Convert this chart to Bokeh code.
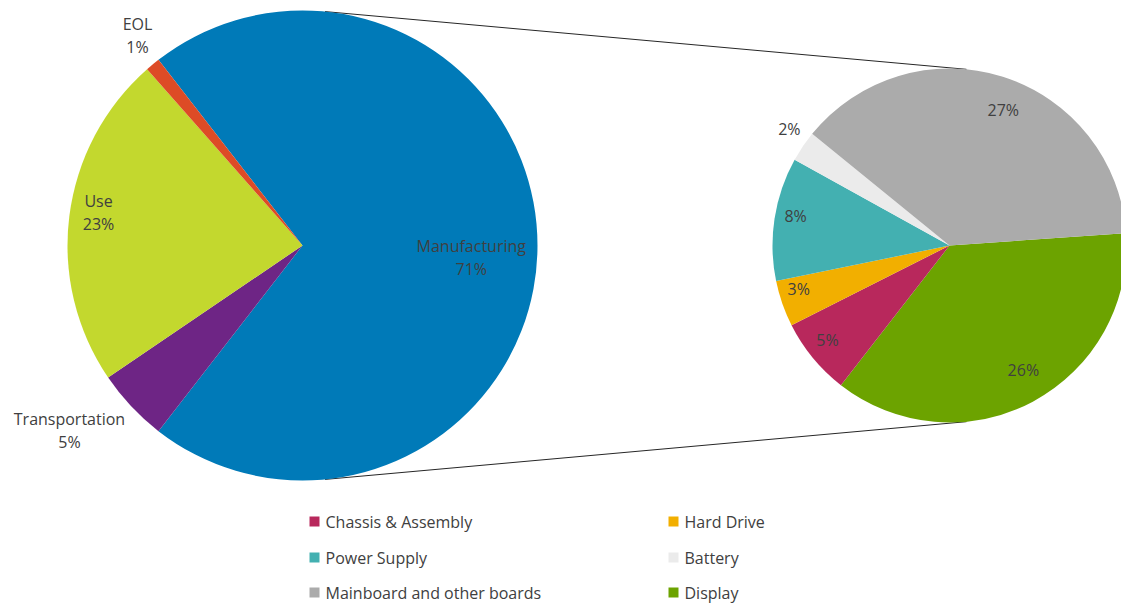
import numpy as np
from bokeh.plotting import figure
from bokeh.models import Range1d, ColumnDataSource
from bokeh.core.properties import value
from bokeh.embed import file_html
from bokeh.resources import INLINE

# ---------------- data ----------------
main_labels = ["Manufacturing", "Transportation", "Use", "EOL"]
main_values = [71, 5, 23, 1]
main_colors = ["#007AB8", "#6E2585", "#C3D82E", "#DD4B26"]

sub_labels = ["Display", "Chassis & Assembly", "Hard Drive", "Power Supply",
              "Battery", "Mainboard and other boards"]
sub_values = [26, 5, 3, 8, 2, 27]
sub_colors = ["#6CA300", "#B8285C", "#F2AF00", "#43B0B1", "#EBEBEB", "#ABABAB"]

legend_order = ["Chassis & Assembly", "Hard Drive", "Power Supply", "Battery",
                "Mainboard and other boards", "Display"]

# ---------------- layout ----------------
W, H = 1121, 604
def Y(py):
    return H - py

L_CX, L_CY, L_R = 302, Y(245), 235
R_CX, R_CY, R_R = 949, Y(245), 177
L_START = 0 + main_values[0] / 100 * 360 / 2   # Manufacturing centered on east
R_START = 4.0

main_label_r = [0.72, 1.267, 0.879, 1.135]
main_label_dang = [-4.0, -4.7, -1.9, -1.4]
sub_label_r = [0.82, 0.873, 0.887, 0.885, 1.119, 0.824]
sub_label_dang = [2.5, -1.6, -3.1, -2.0, -2.0, -4.1]

FONT = "Open Sans"
TXT = "#404040"

p = figure(width=W, height=H, x_range=Range1d(0, W), y_range=Range1d(0, H),
           output_backend="svg", toolbar_location=None, min_border=0,
           x_axis_type=None, y_axis_type=None)
p.grid.visible = False
p.outline_line_color = None
p.background_fill_color = "white"


def pie(values, total, cx, cy, r, start, colors):
    fr = np.array(values, dtype=float) / total
    ends = start - np.cumsum(fr) * 360
    starts = ends + fr * 360
    mids = (starts + ends) / 2
    src = ColumnDataSource(dict(s=np.radians(starts), e=np.radians(ends), c=colors))
    p.wedge(x=cx, y=cy, radius=r, start_angle="s", end_angle="e", direction="clock",
            fill_color="c", line_color=None, source=src)
    return starts, ends, mids

# connector lines (drawn first)
CONN = np.radians(84.5)
for sgn in (1, -1):
    x0 = L_CX + L_R * np.cos(CONN)
    y0 = L_CY + sgn * L_R * np.sin(CONN)
    x1 = R_CX + R_R * np.cos(CONN)
    y1 = R_CY + sgn * R_R * np.sin(CONN)
    p.line([x0, x1], [y0, y1], line_color="#262626", line_width=1)

_, _, lmids = pie(main_values, sum(main_values), L_CX, L_CY, L_R, L_START, main_colors)
_, _, rmids = pie(sub_values, sum(sub_values), R_CX, R_CY, R_R, R_START, sub_colors)

# pie labels
tx, ty, tt = [], [], []
for lab, v, m, rf, da in zip(main_labels, main_values, lmids, main_label_r, main_label_dang):
    a = np.radians(m + da)
    x = L_CX + rf * L_R * np.cos(a)
    y = L_CY + rf * L_R * np.sin(a)
    tx += [x, x]
    ty += [y + 11.5, y - 11.5]
    tt += [lab, f"{v}%"]
for v, m, rf, da in zip(sub_values, rmids, sub_label_r, sub_label_dang):
    a = np.radians(m + da)
    tx.append(R_CX + rf * R_R * np.cos(a))
    ty.append(R_CY + rf * R_R * np.sin(a))
    tt.append(f"{v}%")
p.text(x=tx, y=ty, text=tt, text_align="center", text_baseline="middle",
       text_font=value(FONT), text_font_size="16px", text_color=TXT)

# legend (2 columns x 3 rows)
col_x = [314, 673]
row_y = [521, 557, 592]
lx, ly, lc, lt = [], [], [], []
for i, name in enumerate(legend_order):
    cx = col_x[i % 2]
    cy = Y(row_y[i // 2])
    lx.append(cx)
    ly.append(cy)
    lc.append(sub_colors[sub_labels.index(name)])
    lt.append(name)
p.rect(x=lx, y=ly, width=10, height=10, fill_color=lc, line_color=None)
p.text(x=[x + 11 for x in lx], y=ly, text=lt, text_align="left", text_baseline="middle",
       text_font=value(FONT), text_font_size="16px", text_color=TXT)

open("out.html", "w").write(file_html(p, INLINE))
